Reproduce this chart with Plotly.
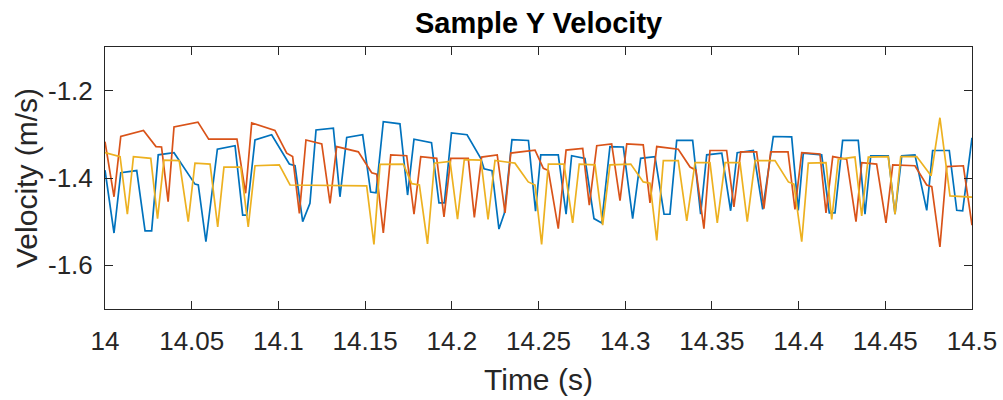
import plotly.graph_objects as go

# Sampled Y velocity (m/s) for three tracked points, time in seconds
time_a = [14.0000, 14.0052, 14.0091, 14.0183, 14.0231, 14.0269, 14.0307, 14.0398, 14.0519, 14.0538,
          14.0582, 14.0648, 14.0750, 14.0794, 14.0817, 14.0865, 14.0961, 14.0980, 14.1063, 14.1096,
          14.1140, 14.1182, 14.1217, 14.1317, 14.1355, 14.1394, 14.1486, 14.1532, 14.1563, 14.1605,
          14.1701, 14.1745, 14.1782, 14.1883, 14.1926, 14.1957, 14.1998, 14.2088, 14.2167, 14.2186,
          14.2232, 14.2272, 14.2303, 14.2347, 14.2442, 14.2483, 14.2513, 14.2614, 14.2659, 14.2691,
          14.2768, 14.2820, 14.2864, 14.2912, 14.2989, 14.3043, 14.3089, 14.3172, 14.3224, 14.3258,
          14.3297, 14.3389, 14.3435, 14.3470, 14.3557, 14.3608, 14.3646, 14.3739, 14.3793, 14.3854,
          14.3960, 14.3998, 14.4027, 14.4133, 14.4177, 14.4210, 14.4254, 14.4344, 14.4383, 14.4416,
          14.4517, 14.4556, 14.4595, 14.4671, 14.4739, 14.4773, 14.4869, 14.4912, 14.4946, 14.5000]
vel_a = [-1.382, -1.526, -1.388, -1.383, -1.521, -1.521, -1.347, -1.342, -1.414, -1.416,
         -1.546, -1.334, -1.326, -1.485, -1.485, -1.313, -1.301, -1.313, -1.368, -1.372,
         -1.500, -1.458, -1.290, -1.286, -1.443, -1.307, -1.301, -1.432, -1.434, -1.271,
         -1.276, -1.439, -1.311, -1.319, -1.457, -1.457, -1.297, -1.301, -1.355, -1.379,
         -1.383, -1.517, -1.481, -1.312, -1.314, -1.476, -1.347, -1.347, -1.483, -1.349,
         -1.355, -1.493, -1.503, -1.328, -1.329, -1.493, -1.355, -1.351, -1.483, -1.483,
         -1.314, -1.314, -1.483, -1.347, -1.343, -1.475, -1.342, -1.337, -1.472, -1.305,
         -1.306, -1.474, -1.343, -1.347, -1.480, -1.480, -1.314, -1.314, -1.483, -1.349,
         -1.349, -1.483, -1.349, -1.347, -1.474, -1.337, -1.337, -1.474, -1.475, -1.308]

time_b = [14.0000, 14.0052, 14.0091, 14.0222, 14.0294, 14.0326, 14.0364, 14.0398, 14.0536, 14.0598,
          14.0761, 14.0811, 14.0846, 14.0980, 14.1048, 14.1082, 14.1121, 14.1159, 14.1250, 14.1298,
          14.1336, 14.1461, 14.1538, 14.1567, 14.1605, 14.1648, 14.1740, 14.1782, 14.1821, 14.1913,
          14.1955, 14.1994, 14.2095, 14.2130, 14.2172, 14.2262, 14.2307, 14.2340, 14.2480, 14.2528,
          14.2557, 14.2614, 14.2659, 14.2755, 14.2793, 14.2836, 14.2922, 14.2970, 14.3009, 14.3104,
          14.3143, 14.3182, 14.3306, 14.3374, 14.3408, 14.3454, 14.3489, 14.3585, 14.3627, 14.3666,
          14.3758, 14.3800, 14.3839, 14.3939, 14.3979, 14.4018, 14.4123, 14.4158, 14.4197, 14.4277,
          14.4331, 14.4364, 14.4450, 14.4504, 14.4543, 14.4671, 14.4739, 14.4768, 14.4815, 14.4854,
          14.4950, 14.5000]
vel_b = [-1.317, -1.443, -1.305, -1.291, -1.328, -1.329, -1.454, -1.283, -1.272, -1.311,
         -1.311, -1.435, -1.274, -1.291, -1.343, -1.351, -1.481, -1.313, -1.322, -1.458,
         -1.328, -1.340, -1.388, -1.391, -1.526, -1.347, -1.349, -1.483, -1.351, -1.355,
         -1.489, -1.355, -1.355, -1.490, -1.352, -1.347, -1.480, -1.343, -1.336, -1.378,
         -1.383, -1.516, -1.336, -1.332, -1.462, -1.326, -1.322, -1.452, -1.322, -1.324,
         -1.457, -1.328, -1.334, -1.375, -1.382, -1.516, -1.337, -1.337, -1.466, -1.340,
         -1.340, -1.470, -1.340, -1.340, -1.472, -1.342, -1.345, -1.480, -1.351, -1.357,
         -1.500, -1.365, -1.368, -1.503, -1.370, -1.372, -1.416, -1.420, -1.558, -1.374,
         -1.372, -1.508]

time_c = [14.0000, 14.0087, 14.0129, 14.0164, 14.0264, 14.0303, 14.0340, 14.0428, 14.0480, 14.0519,
          14.0606, 14.0650, 14.0686, 14.0783, 14.0826, 14.0865, 14.1005, 14.1067, 14.1509, 14.1551,
          14.1586, 14.1720, 14.1769, 14.1813, 14.1860, 14.1900, 14.1990, 14.2033, 14.2072, 14.2168,
          14.2209, 14.2249, 14.2364, 14.2441, 14.2480, 14.2518, 14.2557, 14.2647, 14.2697, 14.2735,
          14.2826, 14.2870, 14.2912, 14.3032, 14.3104, 14.3143, 14.3182, 14.3220, 14.3306, 14.3355,
          14.3403, 14.3489, 14.3531, 14.3576, 14.3662, 14.3704, 14.3749, 14.3864, 14.3941, 14.3973,
          14.4018, 14.4056, 14.4158, 14.4191, 14.4229, 14.4325, 14.4364, 14.4402, 14.4517, 14.4556,
          14.4589, 14.4681, 14.4764, 14.4815, 14.4873, 14.5000]
vel_c = [-1.342, -1.351, -1.483, -1.351, -1.355, -1.493, -1.359, -1.360, -1.500, -1.366,
         -1.368, -1.512, -1.375, -1.375, -1.512, -1.372, -1.370, -1.416, -1.418, -1.552,
         -1.369, -1.368, -1.413, -1.416, -1.551, -1.366, -1.362, -1.494, -1.358, -1.359,
         -1.495, -1.360, -1.366, -1.409, -1.416, -1.552, -1.368, -1.368, -1.503, -1.368,
         -1.370, -1.508, -1.370, -1.368, -1.409, -1.412, -1.543, -1.360, -1.360, -1.498,
         -1.365, -1.365, -1.503, -1.365, -1.365, -1.500, -1.360, -1.360, -1.409, -1.414,
         -1.546, -1.366, -1.365, -1.495, -1.357, -1.352, -1.487, -1.352, -1.351, -1.483,
         -1.351, -1.351, -1.395, -1.262, -1.441, -1.444]

x_ticks = [14, 14.05, 14.1, 14.15, 14.2, 14.25, 14.3, 14.35, 14.4, 14.45, 14.5]
x_tick_labels = ["14", "14.05", "14.1", "14.15", "14.2", "14.25", "14.3", "14.35", "14.4", "14.45", "14.5"]
y_ticks = [-1.6, -1.4, -1.2]
y_tick_labels = ["-1.6", "-1.4", "-1.2"]

colors = ["#0072BD", "#D95319", "#EDB120"]
FONT = "Liberation Sans, Arial, Helvetica, sans-serif"
AX = "#262626"

fig = go.Figure()
for t, v, c in [(time_a, vel_a, colors[0]), (time_b, vel_b, colors[1]), (time_c, vel_c, colors[2])]:
    fig.add_trace(go.Scatter(x=t, y=v, mode="lines", line=dict(color=c, width=1.7),
                             showlegend=False, hoverinfo="skip"))

axis_common = dict(showline=True, mirror="ticks", linecolor=AX, linewidth=1, automargin=False,
                   ticks="inside", tickcolor=AX, tickwidth=1, showgrid=False, zeroline=False,
                   tickfont=dict(family=FONT, size=26, color=AX))

fig.update_xaxes(range=[14, 14.5], tickmode="array", tickvals=x_ticks, ticktext=x_tick_labels,
                 ticklen=8, ticklabelstandoff=9, **axis_common)
fig.update_yaxes(range=[-1.7, -1.1], tickmode="array", tickvals=y_ticks, ticktext=y_tick_labels,
                 ticklen=8, ticklabelstandoff=6, **axis_common)

fig.update_layout(
    width=1003, height=400,
    margin=dict(l=105, r=31, t=47, b=91, autoexpand=False),
    paper_bgcolor="white", plot_bgcolor="white",
    annotations=[
        dict(text="<b>Sample Y Velocity</b>", x=0.5, y=1, xref="paper", yref="paper",
             yshift=24, xanchor="center", yanchor="middle", showarrow=False,
             font=dict(family=FONT, size=29, color="#000000")),
        dict(text="Time (s)", x=0.5, y=0, xref="paper", yref="paper",
             yshift=-70, xanchor="center", yanchor="middle", showarrow=False,
             font=dict(family=FONT, size=30, color=AX)),
        dict(text="Velocity (m/s)", x=0, y=0.5, xref="paper", yref="paper",
             xshift=-79, xanchor="center", yanchor="middle", textangle=-90, showarrow=False,
             font=dict(family=FONT, size=30, color=AX)),
    ],
)

fig.write_html("out.html", config={"displayModeBar": False})
